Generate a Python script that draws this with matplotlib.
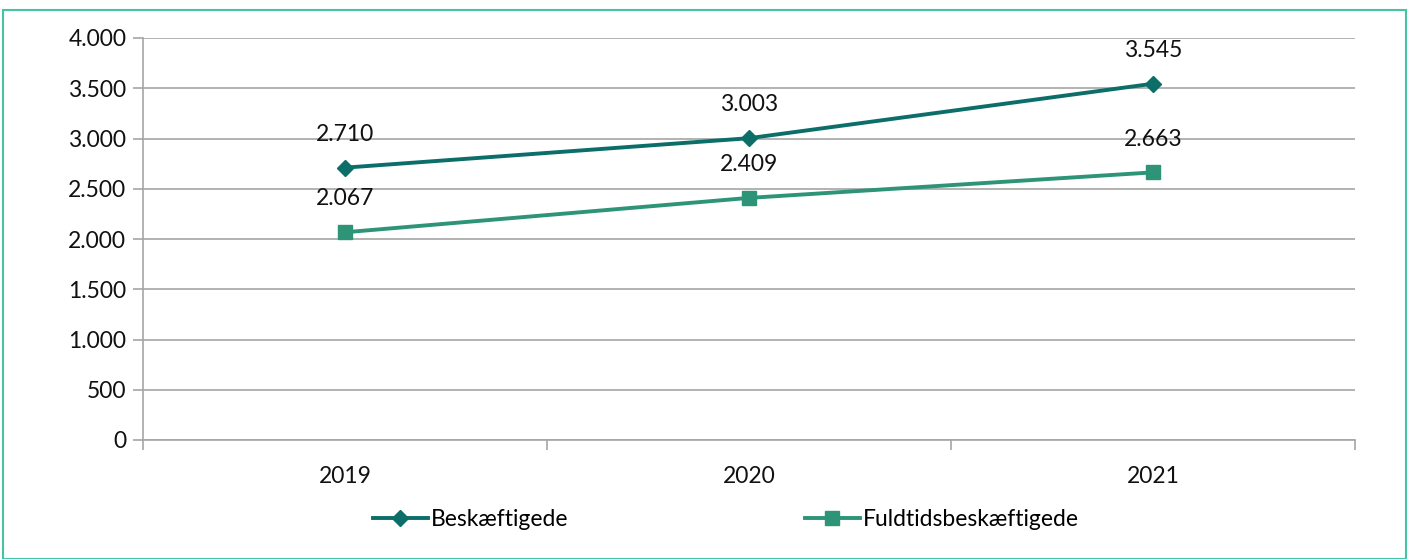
import matplotlib
matplotlib.use("Agg")
import matplotlib.pyplot as plt
from matplotlib.patches import Rectangle
from matplotlib.ticker import FuncFormatter, FixedLocator

plt.rcParams['font.family'] = ['Lato', 'DejaVu Sans']

years = ["2019", "2020", "2021"]
beskaeftigede = [2710, 3003, 3545]
fuldtid = [2067, 2409, 2663]
series_names = ["Beskæftigede", "Fuldtidsbeskæftigede"]
yticks = [0, 500, 1000, 1500, 2000, 2500, 3000, 3500, 4000]

W, H = 1414, 559
FS = 16.5
fig = plt.figure(figsize=(W / 100, H / 100), dpi=100)
ax = fig.add_axes([143 / W, 1 - 440 / H, (1355 - 143) / W, (440 - 38) / H])

c1 = "#0B6E69"
c2 = "#2E9478"
x = list(range(len(years)))
ax.plot(x, beskaeftigede, color=c1, lw=2.8, marker="D", ms=8, label=series_names[0], zorder=3)
ax.plot(x, fuldtid, color=c2, lw=2.8, marker="s", ms=10.5, label=series_names[1], zorder=3)

fmt = lambda v: f"{v:,.0f}".replace(",", ".")
for xi, v in zip(x, beskaeftigede):
    ax.annotate(fmt(v), (xi, v), xytext=(0, 24), textcoords="offset points",
                ha="center", va="center", fontsize=FS, color="#111111")
for xi, v in zip(x, fuldtid):
    ax.annotate(fmt(v), (xi, v), xytext=(0, 24), textcoords="offset points",
                ha="center", va="center", fontsize=FS, color="#111111")

ax.set_xlim(-0.5, len(years) - 0.5)
ax.set_ylim(0, 4000)
ax.set_yticks(yticks)
ax.yaxis.set_major_formatter(FuncFormatter(lambda v, p: fmt(v)))
ax.set_xticks(x)
ax.set_xticklabels(years)
ax.xaxis.set_minor_locator(FixedLocator([i - 0.5 for i in range(len(years) + 1)]))
ax.tick_params(axis="x", which="major", length=0, pad=19, labelsize=FS, labelcolor="#111111")
ax.tick_params(axis="x", which="minor", length=7, width=1.2, color="#A6A6A6", direction="out")
ax.tick_params(axis="y", length=7, width=1.2, color="#A6A6A6", labelsize=FS, labelcolor="#111111", pad=5)
ax.grid(axis="y", color="#A6A6A6", lw=1.2)
ax.set_axisbelow(True)
for s in ["top", "right"]:
    ax.spines[s].set_visible(False)
for s in ["left", "bottom"]:
    ax.spines[s].set_color("#A6A6A6")
    ax.spines[s].set_linewidth(1.2)

fig.legend(loc="center", bbox_to_anchor=(726 / W, 1 - 520 / H), ncol=2, frameon=False,
           fontsize=FS, handlelength=2.4, handletextpad=0.15, columnspacing=10.3)

fig.patches.append(Rectangle((2.5 / W, 0), (1406 - 2.5) / W, 1 - 9.5 / H, transform=fig.transFigure,
                             fill=False, edgecolor="#45C4A4", lw=1.5, clip_on=False))

fig.savefig("out.png", dpi=100)
